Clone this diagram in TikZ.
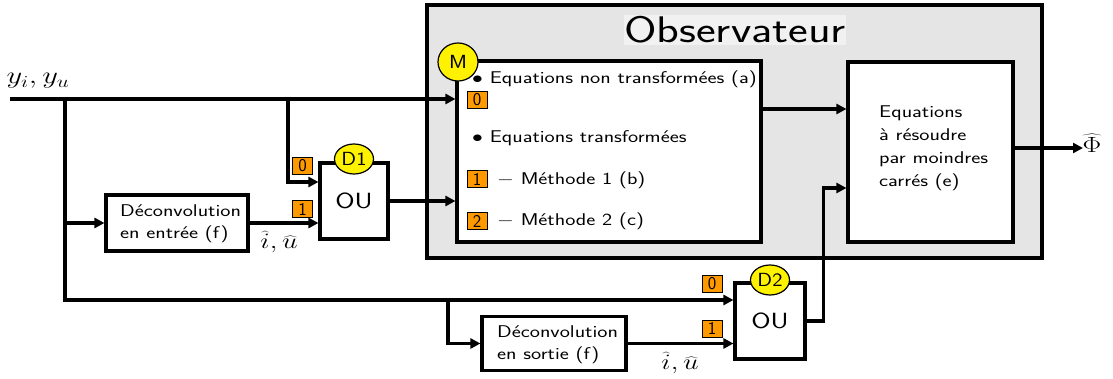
\RequirePackage{fix-cm}
\documentclass[tikz,border=0pt]{standalone}
\usepackage{fontspec}
\usepackage{graphicx}
\usetikzlibrary{arrows.meta,shapes.geometric}
\definecolor{obsgray}{RGB}{229,229,229}
\definecolor{obstitle}{RGB}{241,241,241}
\definecolor{tagorange}{RGB}{255,153,0}
\newcommand{\sx}[1]{\scalebox{1.27}[1]{#1}}
\newcommand{\sxb}[1]{\scalebox{1.15}[1]{#1}}
\newcommand{\mysize}[1]{\fontsize{#1}{#1}\selectfont}
\tikzset{
  lw/.style={line width=3.1pt},
  wire/.style={lw},
  arr/.style={lw,-{Triangle[length=10pt,width=10pt]}},
  blk/.style={draw,lw,fill=white,inner sep=0pt},
  tag/.style={draw,line width=0.7pt,fill=tagorange,inner sep=0pt,minimum width=20pt,minimum height=17pt,font=\sffamily\mysize{18}},
  badge/.style={ellipse,draw,line width=1.2pt,fill=yellow,inner sep=0pt,font=\sffamily\mysize{19}},
  txt/.style={font=\sffamily\mysize{17},inner sep=0pt},
  txtml/.style={font=\sffamily\fontsize{17}{22}\selectfont,inner sep=0pt},
  mathlbl/.style={font=\mysize{22},inner sep=0pt},
}
\begin{document}
\begin{tikzpicture}[x=1pt,y=-1pt]
\useasboundingbox (0,0) rectangle (1113,379);
% observer frame
\node[draw,lw,fill=obsgray,minimum width=615pt,minimum height=253pt,inner sep=0pt] (obs) at (734.5,131.5) {};
\node[fill=obstitle,inner xsep=0pt,inner ysep=2pt,font=\sffamily\mysize{37}] (title) at (735,30) {\sx{Observateur}};
% blocks
\node[blk,minimum width=304pt,minimum height=181pt] (M) at (609,151.5) {};
\node[blk,minimum width=165pt,minimum height=180pt] (EQ) at (930.5,152) {};
\node[blk,minimum width=142pt,minimum height=56pt] (DE) at (177,223) {};
\node[blk,minimum width=144pt,minimum height=54pt] (DS) at (554,343.5) {};
\node[blk,minimum width=68pt,minimum height=76pt,font=\sffamily\mysize{22}] (D1) at (354,201) {\sx{OU}};
\node[blk,minimum width=70pt,minimum height=76pt,font=\sffamily\mysize{22}] (D2) at (770,321) {\sx{OU}};
% texts
\node[txt,anchor=west] (ta) at (472,79) {\sx{$\bullet$\ Equations non transformées (a)}};
\node[tag] (m0) at (477,100) {0};
\node[txt,anchor=west] (tb) at (472,138) {\sx{$\bullet$\ Equations transformées}};
\node[tag] (m1) at (477,179) {1};
\node[txt,anchor=west] (tm1) at (497,180) {\sx{$-$ Méthode 1 (b)}};
\node[tag] (m2) at (477,221) {2};
\node[txt,anchor=west] (tm2) at (497,221) {\sx{$-$ Méthode 2 (c)}};
\node[txt,anchor=west,font=\sffamily\fontsize{17}{23}\selectfont] (eqt) at (879,147) {\sx{\begin{tabular}{@{}l@{}}Equations\\à résoudre\\par moindres\\carrés (e)\end{tabular}}};
\node[txtml,anchor=west] (det) at (120,223) {\sx{\begin{tabular}{@{}l@{}}Déconvolution\\en entrée (f)\end{tabular}}};
\node[txtml,anchor=west] (dst) at (497,344) {\sx{\begin{tabular}{@{}l@{}}Déconvolution\\en sortie (f)\end{tabular}}};
% tags at OU inputs
\node[tag] (t0a) at (302.5,166) {0};
\node[tag] (t1a) at (302.5,209) {1};
\node[tag] (t0b) at (712,284) {0};
\node[tag] (t1b) at (712,328.5) {1};
% math labels
\node[mathlbl,font=\mysize{24}] (yin) at (38,81) {\sx{$y_i, y_u$}};
\node[mathlbl] (iu1) at (279,242) {\sx{$\widehat{i}, \widehat{u}$}};
\node[mathlbl] (iu2) at (680,363) {\sx{$\widehat{i}, \widehat{u}$}};
\node[mathlbl] (phi) at (1092,143) {\sx{$\widehat{\Phi}$}};
% coordinates
\coordinate (in) at (10,99);
\coordinate (j1) at (65,99);
\coordinate (j2) at (288,99);
\coordinate (j3) at (448,300);
\coordinate (r0) at (0,182);
\coordinate (s0) at (0,300);
\coordinate (eqA) at (0,109);
\coordinate (eqB) at (0,188);
\coordinate (out) at (1083,148);
% connectors
\draw[arr] (in) -- (in -| M.west);
\draw[arr] (j1) |- (DE.west);
\draw[arr] (j1) |- (D2.west |- s0);
\draw[arr] (j2) |- (D1.west |- r0);
\draw[arr] (DE.east) -- (D1.west |- DE.east);
\draw[arr] (D1.east) -- (D1.east -| M.west);
\draw[arr] (M.east |- eqA) -- (EQ.west |- eqA);
\draw[arr] (j3) |- (DS.west);
\draw[arr] (DS.east) -- (D2.west |- DS.east);
\draw[arr] (D2.east) -- ++(17,0) |- (EQ.west |- eqB);
\draw[arr] (EQ.east |- out) -- (out);
% badges
\node[badge,minimum width=40pt,minimum height=38pt] (Mb) at (458,62) {\sxb{M}};
\node[badge,minimum width=39pt,minimum height=30pt] (D1b) at (354,159) {\sxb{D1}};
\node[badge,minimum width=39pt,minimum height=30pt] (D2b) at (770,280) {\sxb{D2}};
\end{tikzpicture}
\end{document}
